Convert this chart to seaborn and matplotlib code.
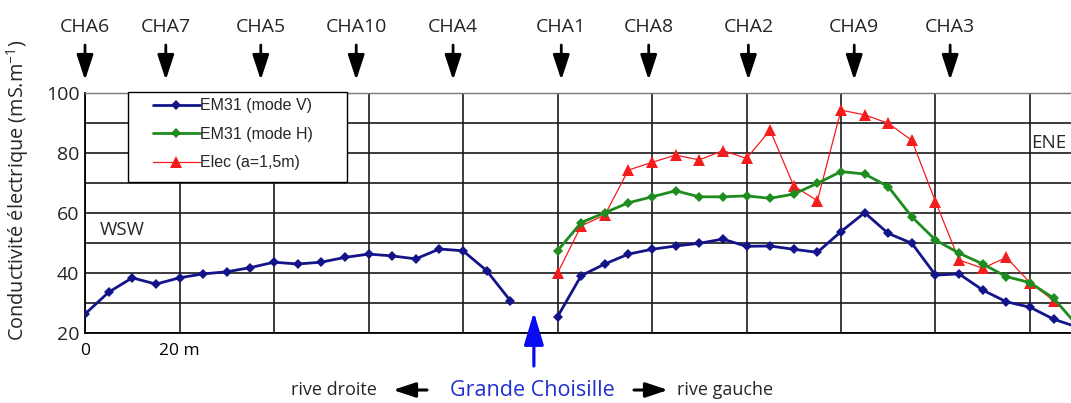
import matplotlib
matplotlib.use("Agg")
import matplotlib.pyplot as plt
import numpy as np
import pandas as pd
import seaborn as sns
from matplotlib.patches import Rectangle, FancyArrowPatch

# ---------------- data ----------------
dist_left = [0, 5, 10, 15, 20, 25, 30, 35, 40, 45, 50, 55, 60, 65, 70, 75, 80, 85, 90]
em31_v_left = [26.3, 33.6, 38.4, 36.3, 38.4, 39.7, 40.4, 41.8, 43.6, 43.0,
               43.6, 45.2, 46.3, 45.7, 44.7, 48.0, 47.4, 40.8, 30.8]

dist_right = [100, 105, 110, 115, 120, 125, 130, 135, 140, 145, 150, 155,
              160, 165, 170, 175, 180, 185, 190, 195, 200, 205, 210]
em31_v_right = [25.4, 39.1, 43.0, 46.3, 47.9, 49.0, 49.9, 51.3, 48.9, 49.0, 47.9, 46.9,
                53.8, 60.1, 53.2, 49.9, 39.3, 39.7, 34.3, 30.4, 28.6, 24.6, 22.0]
em31_h_right = [47.4, 56.8, 60.1, 63.4, 65.4, 67.4, 65.4, 65.4, 65.7, 64.9, 66.3, 69.9,
                73.8, 73.0, 68.8, 58.7, 51.0, 46.6, 43.0, 38.8, 36.8, 31.6, 22.5]

dist_elec = [100, 105, 110, 115, 120, 125, 130, 135, 140, 145, 150, 155,
             160, 165, 170, 175, 180, 185, 190, 195, 200, 205]
elec_right = [39.9, 55.7, 59.3, 74.3, 76.9, 79.3, 77.7, 80.8, 78.2, 87.6, 69.0, 64.1,
              94.3, 92.7, 89.9, 84.2, 63.8, 44.3, 41.6, 45.2, 36.8, 30.8]

series_labels = ["EM31 (mode V)", "EM31 (mode H)", "Elec (a=1,5m)"]
station_names = ["CHA6", "CHA7", "CHA5", "CHA10", "CHA4", "CHA1", "CHA8", "CHA2", "CHA9", "CHA3"]
station_pos = [0, 17.1, 37.2, 57.4, 77.9, 100.8, 119.3, 140.4, 162.8, 183.1]
river_pos = 95
x_ticks = [0, 20, 40, 60, 80, 100, 120, 140, 160, 180, 200]
x_tick_labels = ["0", "20 m", "", "", "", "", "", "", "", "", ""]
y_ticks = [20, 40, 60, 80, 100]
y_minor = [30, 50, 70, 90]

# ---------------- style ----------------
sns.set_style("white")
plt.rcParams["font.family"] = ["Open Sans", "DejaVu Sans"]
plt.rcParams["mathtext.default"] = "regular"

W, H = 1071, 403
fig = plt.figure(figsize=(W / 100, H / 100), dpi=100)
ax = fig.add_axes([85 / W, 70 / H, 986 / W, 240 / H])

c_blue = "#14148a"
c_green = "#1e8c1e"
c_red = "#f41c1c"

df_vl = pd.DataFrame({"x": dist_left, "y": em31_v_left})
df_vr = pd.DataFrame({"x": dist_right, "y": em31_v_right})
df_hr = pd.DataFrame({"x": dist_right, "y": em31_h_right})
df_er = pd.DataFrame({"x": dist_elec, "y": elec_right})

common = dict(estimator=None, sort=False, legend=False)
sns.lineplot(data=df_vl, x="x", y="y", ax=ax, color=c_blue, lw=2.0, marker="D",
             markersize=5, markeredgewidth=0, zorder=6, **common)
sns.lineplot(data=df_er, x="x", y="y", ax=ax, color=c_red, lw=0.9, marker="^",
             markersize=8.5, markeredgewidth=0, zorder=6, **common)
h_red = ax.lines[-1]
sns.lineplot(data=df_hr, x="x", y="y", ax=ax, color=c_green, lw=2.0, marker="D",
             markersize=5, markeredgewidth=0, zorder=7, **common)
h_green = ax.lines[-1]
sns.lineplot(data=df_vr, x="x", y="y", ax=ax, color=c_blue, lw=2.0, marker="D",
             markersize=5, markeredgewidth=0, zorder=8, **common)
h_blue = ax.lines[-1]

ax.set_xlim(0, 986 / 4.725)
ax.set_ylim(20, 100)
ax.set_xticks(x_ticks)
ax.set_xticklabels(x_tick_labels, fontsize=12.5)
ax.set_yticks(y_ticks)
ax.set_yticks(y_minor, minor=True)
ax.set_yticklabels([str(v) for v in y_ticks], fontsize=14)
ax.tick_params(axis="x", length=4, width=1, pad=3, colors="black")
ax.tick_params(axis="y", which="both", length=0, pad=4)

ax.grid(True, axis="x", which="major", color="#1a1a1a", lw=1.2)
ax.grid(True, axis="y", which="both", color="#1a1a1a", lw=1.2)
ax.set_axisbelow(True)
for s in ["left", "bottom"]:
    ax.spines[s].set_color("black")
    ax.spines[s].set_linewidth(1.3)
ax.spines["top"].set_color("#777777")
ax.spines["top"].set_linewidth(1.0)
ax.spines["right"].set_visible(False)

ax.set_xlabel("")
ax.set_ylabel("Conductivité électrique (mS.m$^{-1}$)", fontsize=14.3)
ax.yaxis.set_label_coords((31 - 85) / 986, (333 - 190) / 240)

# legend box + legend
box = Rectangle(((128 - 85) / 986, (333 - 182) / 240), (347 - 128) / 986, (182 - 92) / 240,
                transform=ax.transAxes, facecolor="white", edgecolor="black", lw=1.0,
                zorder=9, clip_on=False)
ax.add_patch(box)
leg = ax.legend([h_blue, h_green, h_red], series_labels, loc="upper left",
                bbox_to_anchor=((150 - 85) / 986, (333 - 95) / 240), frameon=False,
                prop={"family": "Liberation Sans", "size": 11.5}, handlelength=2.9,
                handletextpad=0.05, labelspacing=0.85, borderpad=0.2, borderaxespad=0)
leg.set_zorder(10)

# direction labels
ax.text(3.2, 54.3, "WSW", fontsize=13.5, ha="left", va="center", zorder=5)
ax.text(200.2, 83.3, "ENE", fontsize=13.5, ha="left", va="center", zorder=5)

# station markers on top
tr = ax.get_xaxis_transform()
for name, pos in zip(station_names, station_pos):
    ax.annotate("", xy=(pos, 1 + 13 / 240), xytext=(pos, 1 + 48 / 240), xycoords=tr,
                textcoords=tr, annotation_clip=False,
                arrowprops=dict(arrowstyle="-|>,head_length=0.85,head_width=0.28",
                                color="black", lw=2.0, shrinkA=0, shrinkB=0,
                                mutation_scale=18))
    ax.text(pos, 1 + 66 / 240, name, transform=tr, ha="center", va="center",
            fontsize=14, clip_on=False)

# river arrow
ax.annotate("", xy=(river_pos, (333 - 312) / 240), xytext=(river_pos, (333 - 366) / 240),
            xycoords=tr, textcoords=tr, annotation_clip=False,
            arrowprops=dict(arrowstyle="-|>,head_length=1.0,head_width=0.3",
                            color="#0a0af0", lw=2.3, shrinkA=0, shrinkB=0,
                            mutation_scale=20))

# bottom caption
yb = H - 390
fig.text(377 / W, yb / H, "rive droite", ha="right", va="center", fontsize=13)
fig.text(532 / W, yb / H, "Grande Choisille", ha="center", va="center", fontsize=15.5,
         color="#1f2fd0")
fig.text(677 / W, yb / H, "rive gauche", ha="left", va="center", fontsize=13)
for x0, x1 in [(427, 393), (634, 668)]:
    fig.add_artist(FancyArrowPatch(
        (x0 / W, yb / H), (x1 / W, yb / H), transform=fig.transFigure,
        arrowstyle="-|>,head_length=0.75,head_width=0.25", mutation_scale=18,
        color="black", lw=2.2, shrinkA=0, shrinkB=0))

fig.savefig("out.png", dpi=100, facecolor="white")
